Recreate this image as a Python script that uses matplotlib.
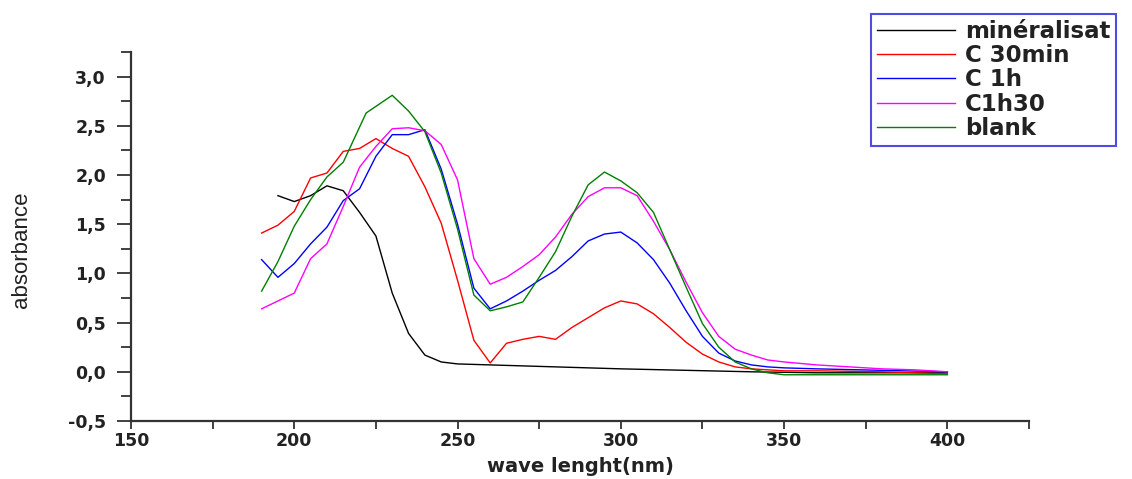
import matplotlib
matplotlib.use("Agg")
import matplotlib.pyplot as plt
from matplotlib.ticker import MultipleLocator, FuncFormatter

# absorbance spectra
WL_MIN = [195, 200, 205, 210, 215, 220, 225, 230, 235, 240, 245, 250, 260,
          280, 300, 320, 340, 360, 380, 400]
ABS_MIN = [1.79, 1.73, 1.79, 1.89, 1.84, 1.62, 1.38, 0.80, 0.39, 0.17, 0.10,
           0.08, 0.07, 0.05, 0.03, 0.015, 0.0, -0.01, -0.01, -0.01]

WL_30 = [190, 195, 200, 205, 210, 215, 220, 225, 230, 235, 240, 245, 250, 255,
         260, 265, 270, 275, 280, 285, 290, 295, 300, 305, 310, 315, 320, 325,
         330, 335, 340, 350, 360, 380, 400]
ABS_30 = [1.41, 1.49, 1.63, 1.97, 2.02, 2.24, 2.27, 2.37, 2.27, 2.19, 1.88, 1.51,
          0.93, 0.32, 0.09, 0.29, 0.33, 0.36, 0.33, 0.45, 0.55, 0.65, 0.72, 0.69,
          0.59, 0.45, 0.30, 0.18, 0.10, 0.05, 0.03, 0.01, 0.01, 0.0, -0.02]

WL_1H = [190, 195, 200, 205, 210, 215, 220, 225, 230, 235, 240, 245, 250, 255,
         260, 265, 270, 275, 280, 285, 290, 295, 300, 305, 310, 315, 320, 325,
         330, 335, 340, 345, 350, 360, 380, 400]
ABS_1H = [1.14, 0.96, 1.10, 1.30, 1.47, 1.74, 1.86, 2.19, 2.41, 2.41, 2.46, 2.06,
          1.50, 0.85, 0.64, 0.72, 0.82, 0.93, 1.03, 1.17, 1.33, 1.40, 1.42, 1.31,
          1.14, 0.90, 0.62, 0.36, 0.19, 0.11, 0.07, 0.05, 0.04, 0.03, 0.015, 0.0]

WL_1H30 = [190, 195, 200, 205, 210, 215, 220, 225, 230, 235, 240, 245, 250, 255,
           260, 265, 270, 275, 280, 285, 290, 295, 300, 305, 310, 315, 320, 325,
           330, 335, 340, 345, 350, 360, 370, 380, 390, 400]
ABS_1H30 = [0.64, 0.72, 0.80, 1.15, 1.30, 1.68, 2.08, 2.29, 2.47, 2.48, 2.45,
            2.31, 1.95, 1.15, 0.89, 0.96, 1.07, 1.19, 1.37, 1.60, 1.78, 1.87,
            1.87, 1.79, 1.53, 1.24, 0.91, 0.60, 0.36, 0.23, 0.17, 0.12, 0.10,
            0.07, 0.05, 0.03, 0.02, 0.0]

WL_BLANK = [190, 195, 200, 205, 210, 215, 222, 230, 235, 240, 245, 250, 255, 260,
            265, 270, 275, 280, 285, 290, 295, 300, 305, 310, 315, 320, 325, 330,
            335, 340, 345, 350, 400]
ABS_BLANK = [0.82, 1.12, 1.48, 1.75, 1.98, 2.13, 2.63, 2.81, 2.65, 2.44, 2.02,
             1.45, 0.78, 0.62, 0.66, 0.71, 0.96, 1.22, 1.58, 1.90, 2.03, 1.94,
             1.82, 1.62, 1.24, 0.86, 0.49, 0.25, 0.10, 0.03, -0.01, -0.03, -0.03]

SERIES = [
    ("minéralisat", WL_MIN, ABS_MIN, "#000000"),
    ("C 30min", WL_30, ABS_30, "#ff0000"),
    ("C 1h", WL_1H, ABS_1H, "#0000ff"),
    ("C1h30", WL_1H30, ABS_1H30, "#ff00ff"),
    ("blank", WL_BLANK, ABS_BLANK, "#008000"),
]

TXT = "#222222"
BOLD = ["DejaVu Sans"]

fig = plt.figure(figsize=(11.32, 4.79), dpi=100)
ax = fig.add_axes([131 / 1132, 58 / 479, 898 / 1132, 369 / 479])

for name, x, y, c in SERIES:
    ax.plot(x, y, color=c, lw=1.0, label=name)

ax.set_xlim(150, 425)
ax.set_ylim(-0.5, 3.25)
ax.xaxis.set_major_locator(MultipleLocator(50))
ax.xaxis.set_minor_locator(MultipleLocator(25))
ax.yaxis.set_major_locator(MultipleLocator(0.5))
ax.yaxis.set_minor_locator(MultipleLocator(0.25))
ax.yaxis.set_major_formatter(FuncFormatter(lambda v, p: f"{v:.1f}".replace(".", ",")))

for s in ["top", "right"]:
    ax.spines[s].set_visible(False)
for s in ["left", "bottom"]:
    ax.spines[s].set_linewidth(1.6)
    ax.spines[s].set_color("#333333")

ax.tick_params(axis="y", which="major", direction="out", length=10, width=1.3,
               color="#333333", pad=8)
ax.tick_params(axis="y", which="minor", direction="out", length=7, width=1.3,
               color="#333333")
ax.tick_params(axis="x", which="both", direction="out", length=6, width=1.3,
               color="#333333", pad=2)
for lab in ax.get_xticklabels() + ax.get_yticklabels():
    lab.set_fontfamily(BOLD)
    lab.set_fontweight("bold")
    lab.set_fontsize(12.5)
    lab.set_color(TXT)

ax.set_xlabel("wave lenght(nm)", family=BOLD, fontweight="bold", fontsize=14,
              color=TXT, va="center")
ax.xaxis.set_label_coords(0.5, -45 / 369)
fig.text(22 / 1132, 1 - 250 / 479, "absorbance",
         family=["Liberation Sans", "DejaVu Sans"], fontsize=16,
         rotation=90, ha="center", va="center", color=TXT)

leg = ax.legend(loc="upper left", bbox_to_anchor=(871 / 1132, 1 - 14 / 479),
                bbox_transform=fig.transFigure, frameon=True, fancybox=False,
                prop={"family": BOLD, "weight": "bold", "size": 16.5},
                handlelength=3.4, handletextpad=0.44, borderpad=0.25,
                labelspacing=0.06, borderaxespad=0)
leg.get_frame().set_edgecolor("#2020dd")
leg.get_frame().set_linewidth(1.5)
for t in leg.get_texts():
    t.set_color(TXT)
for h in leg.get_lines():
    h.set_linewidth(1.0)

fig.savefig("out.png", dpi=100)
